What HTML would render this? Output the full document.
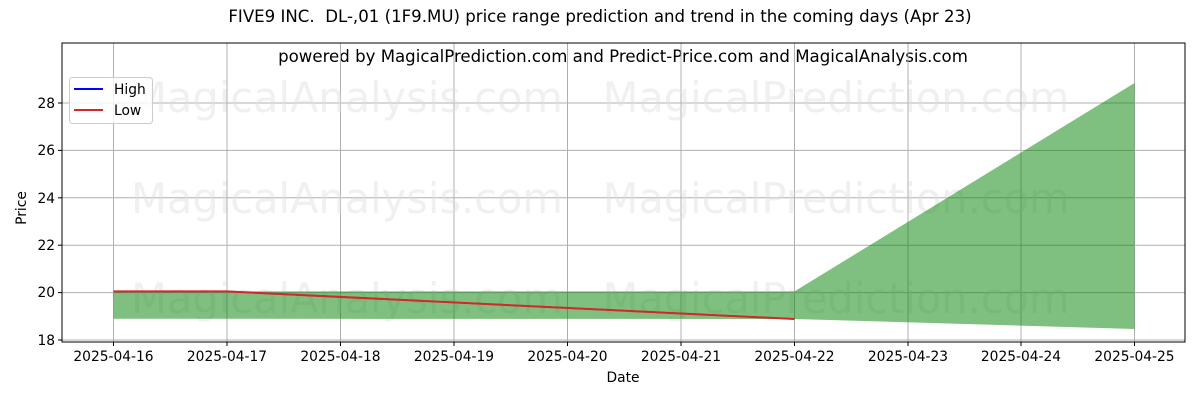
<!DOCTYPE html>
<html><head><meta charset="utf-8"><style>body{margin:0;background:#fff}</style></head><body>
<svg width="1200" height="400" xmlns="http://www.w3.org/2000/svg" font-family="'DejaVu Sans','Liberation Sans',sans-serif">
<rect width="1200" height="400" fill="#fff"/>
<text x="600" y="22" font-size="16.6" text-anchor="middle" xml:space="preserve">FIVE9 INC.  DL-,01 (1F9.MU) price range prediction and trend in the coming days (Apr 23)</text>
<text x="623" y="62" font-size="16.6" text-anchor="middle">powered by MagicalPrediction.com and Predict-Price.com and MagicalAnalysis.com</text>
<g stroke="#b0b0b0" stroke-width="1">
<line x1="113.5" y1="43" x2="113.5" y2="342"/><line x1="227" y1="43" x2="227" y2="342"/><line x1="340.5" y1="43" x2="340.5" y2="342"/><line x1="454" y1="43" x2="454" y2="342"/><line x1="567.5" y1="43" x2="567.5" y2="342"/><line x1="681" y1="43" x2="681" y2="342"/><line x1="794.5" y1="43" x2="794.5" y2="342"/><line x1="908" y1="43" x2="908" y2="342"/><line x1="1021" y1="43" x2="1021" y2="342"/><line x1="1134.5" y1="43" x2="1134.5" y2="342"/>
<line x1="62" y1="103" x2="1185" y2="103"/><line x1="62" y1="150.4" x2="1185" y2="150.4"/><line x1="62" y1="197.8" x2="1185" y2="197.8"/><line x1="62" y1="245.2" x2="1185" y2="245.2"/><line x1="62" y1="292.6" x2="1185" y2="292.6"/><line x1="62" y1="340" x2="1185" y2="340"/>
</g>
<g font-size="41.5" fill="#ddd" fill-opacity="0.45" text-anchor="middle">
<text x="347" y="112">MagicalAnalysis.com</text><text x="836" y="112">MagicalPrediction.com</text>
<text x="347" y="213">MagicalAnalysis.com</text><text x="836" y="213">MagicalPrediction.com</text>
<text x="347" y="313">MagicalAnalysis.com</text><text x="836" y="313">MagicalPrediction.com</text>
</g>
<polygon points="113.5,291.4 794.5,291.4 1134.5,83 1134.5,329 794.5,319 113.5,318.7" fill="#008000" fill-opacity="0.5"/>
<polyline points="113.5,291.4 227,291.4 794.5,319" fill="none" stroke="#0000ff" stroke-width="1.5"/>
<polyline points="113.5,291.4 227,291.4 794.5,319" fill="none" stroke="#d62728" stroke-width="2"/>
<rect x="62" y="43" width="1123" height="299" fill="none" stroke="#000" stroke-width="1"/>
<g stroke="#000"><line x1="113.5" y1="342" x2="113.5" y2="346"/><line x1="227" y1="342" x2="227" y2="346"/><line x1="340.5" y1="342" x2="340.5" y2="346"/><line x1="454" y1="342" x2="454" y2="346"/><line x1="567.5" y1="342" x2="567.5" y2="346"/><line x1="681" y1="342" x2="681" y2="346"/><line x1="794.5" y1="342" x2="794.5" y2="346"/><line x1="908" y1="342" x2="908" y2="346"/><line x1="1021" y1="342" x2="1021" y2="346"/><line x1="1134.5" y1="342" x2="1134.5" y2="346"/>
<line x1="58" y1="103" x2="62" y2="103"/><line x1="58" y1="150.4" x2="62" y2="150.4"/><line x1="58" y1="197.8" x2="62" y2="197.8"/><line x1="58" y1="245.2" x2="62" y2="245.2"/><line x1="58" y1="292.6" x2="62" y2="292.6"/><line x1="58" y1="340" x2="62" y2="340"/></g>
<g font-size="13.8" text-anchor="middle">
<text x="113.5" y="361">2025-04-16</text><text x="227" y="361">2025-04-17</text><text x="340.5" y="361">2025-04-18</text><text x="454" y="361">2025-04-19</text><text x="567.5" y="361">2025-04-20</text><text x="681" y="361">2025-04-21</text><text x="794.5" y="361">2025-04-22</text><text x="908" y="361">2025-04-23</text><text x="1021" y="361">2025-04-24</text><text x="1134.5" y="361">2025-04-25</text>
<text x="623" y="382">Date</text>
</g>
<g font-size="13.8" text-anchor="end">
<text x="55" y="108">28</text><text x="55" y="155">26</text><text x="55" y="203">24</text><text x="55" y="250">22</text><text x="55" y="297">20</text><text x="55" y="345">18</text>
</g>
<text transform="translate(26,208) rotate(-90)" font-size="13.8" text-anchor="middle">Price</text>
<rect x="69.5" y="77.5" width="83" height="46" rx="3" fill="#fff" fill-opacity="0.8" stroke="#ccc"/>
<line x1="74" y1="89" x2="103" y2="89" stroke="#0000ff" stroke-width="2"/>
<line x1="74" y1="110" x2="103" y2="110" stroke="#d62728" stroke-width="2"/>
<text x="114" y="94" font-size="13.8">High</text><text x="114" y="115" font-size="13.8">Low</text>
</svg>
</body></html>
